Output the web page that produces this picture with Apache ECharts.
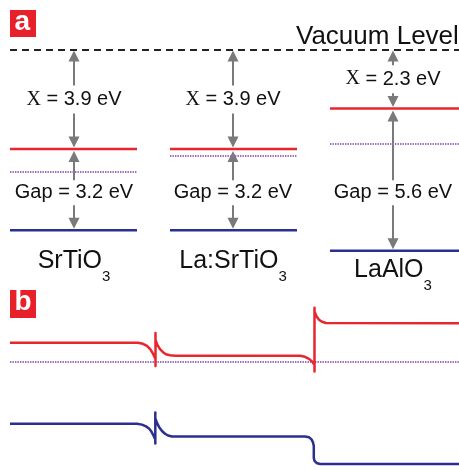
<!DOCTYPE html>
<html><head><meta charset="utf-8">
<script src="https://cdn.jsdelivr.net/npm/echarts@6/dist/echarts.min.js"></script>
<style>html,body{margin:0;padding:0;background:#fff}#c{width:459px;height:470px}</style>
</head><body><div id="c"></div>
<script>
// ---------------- data ----------------
// panel a: band alignment (energies in eV, vacuum level = 0)
const materials = ['SrTiO', 'La:SrTiO', 'LaAlO'];
const formulaSub = ['3', '3', '3'];
const affinity = [3.9, 3.9, 2.3];        // electron affinity X
const bandGap = [3.2, 3.2, 5.6];
const fermiDepth = [4.8, 4.17, 3.7];     // schematic Fermi level below vacuum
const vacuumEnergy = 0;
const vacuumLabel = 'Vacuum Level';

// panel b: band profile across SrTiO3 | La:SrTiO3 | LaAlO3 (energy vs E_F, eV)
const cbPos = [10, 138, 143, 147, 150, 152.5, 155.5, 155.5, 155.5, 155.5, 157.5, 160, 163, 166, 170, 175, 300, 305, 309, 312, 314.5, 314.5, 314.5, 314.5, 316.5, 319, 322, 326, 459];
const cbE   = [0.75, 0.75, 0.71, 0.63, 0.51, 0.36, 0.12, -0.16, 1.14, 0.86, 0.66, 0.50, 0.38, 0.30, 0.26, 0.24, 0.24, 0.20, 0.12, 0.02, -0.12, -0.38, 2.13, 1.98, 1.80, 1.66, 1.58, 1.53, 1.52];
const vbPos = [10, 137, 142, 146, 149, 151, 153, 155.3, 155.3, 155.3, 155.3, 157, 159, 162, 165, 168, 172, 305, 309, 311.5, 313, 313.8, 313.8, 314.5, 316.5, 320, 459];
const vbE   = [-2.44, -2.44, -2.47, -2.54, -2.62, -2.72, -2.86, -3.05, -3.21, -1.99, -2.22, -2.40, -2.56, -2.72, -2.83, -2.90, -2.94, -2.94, -2.97, -3.05, -3.17, -3.31, -3.78, -3.90, -3.98, -4.02, -4.02];
const fermiE = 0;

// ---------------- layout (not data) ----------------
const colX0 = [10, 170, 330], colX1 = [137, 297, 459], arrowX = [74, 233, 393];
const lineX0 = 10, lineX1 = 459;
const gapLabelE = -5.6;
const nameLabelE = [-8.25, -8.25, -8.6];
const vacLabelX = 296;

const RED = '#e8262d', BLUE = '#2b2f8f', PURPLE = '#9b6bbf', GRAY = '#7a7a7a', INK = '#111';
const FONT = '"Liberation Sans", Arial, Helvetica, sans-serif';
const SERIF = '"Liberation Serif", "Times New Roman", serif';

function seg(x1, y1, x2, y2, stroke, w, dash) {
  return { type: 'line', shape: { x1, y1, x2, y2 }, style: { stroke, lineWidth: w, lineDash: dash || null }, silent: true };
}
function head(x, yTip, dir) { // dir -1: points up, +1: points down
  const b = yTip - dir * 11;
  return { type: 'polygon', shape: { points: [[x, yTip], [x - 5.5, b], [x + 5.5, b]] }, style: { fill: GRAY }, silent: true };
}

function renderColumn(params, api) {
  const i = params.dataIndex;
  const eC = vacuumEnergy - affinity[i];
  const eV = eC - bandGap[i];
  const eF = vacuumEnergy - fermiDepth[i];
  const x0 = api.coord([colX0[i], eC])[0], x1 = api.coord([colX1[i], eC])[0];
  const xa = api.coord([arrowX[i], 0])[0];
  const yVac = api.coord([arrowX[i], vacuumEnergy])[1];
  const yC = api.coord([arrowX[i], eC])[1];
  const yV = api.coord([arrowX[i], eV])[1];
  const yF = api.coord([arrowX[i], eF])[1];
  const yChi = (yVac + yC) / 2;
  const yGap = api.coord([arrowX[i], gapLabelE])[1];
  const yName = api.coord([arrowX[i], nameLabelE[i]])[1];
  const ch = [];
  // arrows
  ch.push(seg(xa, yVac + 10, xa, yChi - 14, GRAY, 2));
  ch.push(seg(xa, yChi + 14, xa, yC - 10, GRAY, 2));
  ch.push(head(xa, yVac + 0.5, -1));
  ch.push(head(xa, yC - 1.5, 1));
  ch.push(seg(xa, yC + 12, xa, yGap - 12, GRAY, 2));
  ch.push(seg(xa, yGap + 13, xa, yV - 10, GRAY, 2));
  ch.push(head(xa, yC + 2, -1));
  ch.push(head(xa, yV - 1.5, 1));
  // levels
  ch.push(seg(x0, yF, x1, yF, PURPLE, 2, [1.4, 1.1]));
  ch.push(seg(x0, yC, x1, yC, RED, 2.5));
  ch.push(seg(x0, yV, x1, yV, BLUE, 2.5));
  // labels
  ch.push({ type: 'text', silent: true, style: {
    x: xa, y: yChi, align: 'center', verticalAlign: 'middle',
    text: '{c|Χ}{t| = ' + affinity[i].toFixed(1) + ' eV}',
    rich: { c: { fontFamily: SERIF, fontSize: 20, fill: INK }, t: { fontFamily: FONT, fontSize: 20, fill: INK } }
  }});
  ch.push({ type: 'text', silent: true, style: {
    x: xa, y: yGap, align: 'center', verticalAlign: 'middle',
    text: 'Gap = ' + bandGap[i].toFixed(1) + ' eV', fontFamily: FONT, fontSize: 20, fill: INK
  }});
  ch.push({ type: 'text', silent: true, style: {
    x: xa, y: yName + 7, align: 'center', verticalAlign: 'middle',
    text: '{m|' + materials[i] + '}{s|' + formulaSub[i] + '}',
    rich: {
      m: { fontFamily: FONT, fontSize: 25, fill: INK, verticalAlign: 'top' },
      s: { fontFamily: FONT, fontSize: 15, fill: INK, verticalAlign: 'top', padding: [21, 0, 0, 0] }
    }
  }});
  return { type: 'group', children: ch };
}

const chart = echarts.init(document.getElementById('c'), null, { renderer: 'canvas' });
chart.setOption({
  animation: false,
  backgroundColor: '#fff',
  grid: [
    { left: 0, top: 50, width: 459, height: 203.2 },
    { left: 0, top: 306, width: 459, height: 162.56 }
  ],
  xAxis: [
    { type: 'value', gridIndex: 0, min: 0, max: 459, show: false },
    { type: 'value', gridIndex: 1, min: 0, max: 459, show: false }
  ],
  yAxis: [
    { type: 'value', gridIndex: 0, min: -8, max: 0, show: false },
    { type: 'value', gridIndex: 1, min: -4.2, max: 2.2, show: false }
  ],
  graphic: [
    { type: 'rect', left: 10, top: 10, shape: { width: 26, height: 27 }, style: { fill: '#e8202a' } },
    { type: 'text', left: 14.5, top: 8, style: { text: 'a', fontFamily: FONT, fontWeight: 'bold', fontSize: 28, fill: '#fff' } },
    { type: 'rect', left: 10, top: 290, shape: { width: 26, height: 28 }, style: { fill: '#e8202a' } },
    { type: 'text', left: 14.5, top: 288.5, style: { text: 'b', fontFamily: FONT, fontWeight: 'bold', fontSize: 28, fill: '#fff' } }
  ],
  series: [
    { type: 'line', xAxisIndex: 0, yAxisIndex: 0, symbol: 'none', clip: false, silent: true,
      data: [[lineX0, vacuumEnergy], [lineX1, vacuumEnergy]],
      lineStyle: { color: '#222', width: 2, type: [7, 5] } },
    { type: 'custom', xAxisIndex: 0, yAxisIndex: 0, clip: false, silent: true,
      data: materials.map((m, i) => [arrowX[i], vacuumEnergy - affinity[i]]),
      renderItem: renderColumn },
    { type: 'custom', xAxisIndex: 0, yAxisIndex: 0, clip: false, silent: true,
      data: [[vacLabelX, vacuumEnergy]],
      renderItem: function (params, api) {
        const p = api.coord([api.value(0), api.value(1)]);
        return { type: 'text', silent: true, style: { x: p[0], y: p[1] - 13, align: 'left', verticalAlign: 'middle',
          text: vacuumLabel, fontFamily: FONT, fontSize: 26, fill: INK } };
      } },
    // panel b
    { type: 'line', xAxisIndex: 1, yAxisIndex: 1, symbol: 'none', clip: false, silent: true, z: 1,
      data: [[lineX0, fermiE], [lineX1, fermiE]],
      lineStyle: { color: PURPLE, width: 2, type: [1.4, 1.1] } },
    { type: 'line', xAxisIndex: 1, yAxisIndex: 1, symbol: 'none', clip: false, silent: true, z: 2,
      data: cbPos.map((x, i) => [x, cbE[i]]),
      lineStyle: { color: RED, width: 2.5, join: 'round' } },
    { type: 'line', xAxisIndex: 1, yAxisIndex: 1, symbol: 'none', clip: false, silent: true, z: 2,
      data: vbPos.map((x, i) => [x, vbE[i]]),
      lineStyle: { color: BLUE, width: 2.5, join: 'round' } }
  ]
});
</script>
</body></html>
